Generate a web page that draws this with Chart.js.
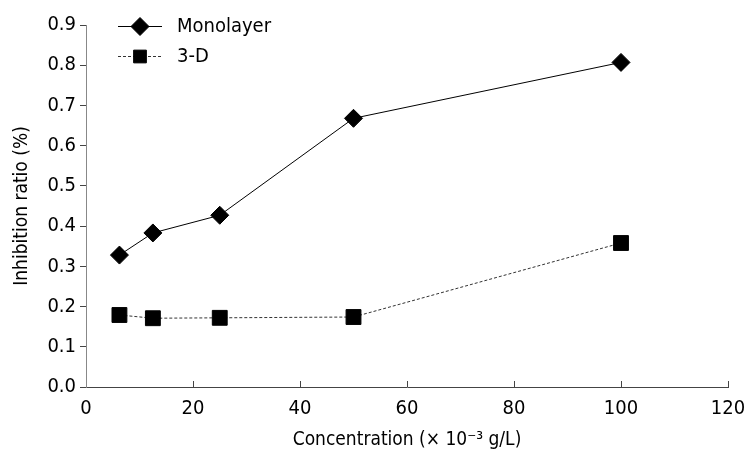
<!DOCTYPE html>
<html>
<head>
<meta charset="utf-8">
<script src="https://cdn.jsdelivr.net/npm/chart.js@4/dist/chart.umd.min.js"></script>
<style>
html,body{margin:0;padding:0;background:#fff;}
#wrap{width:748px;height:456px;position:relative;}
</style>
</head>
<body>
<div id="wrap"><canvas id="c" width="748" height="456"></canvas></div>
<script>
const concentrations = [6.25, 12.5, 25, 50, 100];
const monolayer = [0.328, 0.383, 0.427, 0.668, 0.807];
const threeD = [0.179, 0.171, 0.172, 0.174, 0.358];
const seriesNames = ["Monolayer", "3-D"];
const xTicks = [0, 20, 40, 60, 80, 100, 120];
const yTicks = [0, 0.1, 0.2, 0.3, 0.4, 0.5, 0.6, 0.7, 0.8, 0.9];
const xTitle = "Concentration (× 10⁻³ g/L)";
const yTitle = "Inhibition ratio (%)";

const FONT = "'DejaVu Sans Condensed', 'DejaVu Sans'";

const toPts = (xs, ys) => xs.map((x, i) => ({x: x, y: ys[i]}));

const xInwardTicks = {
  id: 'xInwardTicks',
  afterDatasetsDraw(chart) {
    const ctx = chart.ctx, xs = chart.scales.x, bottom = chart.chartArea.bottom;
    ctx.save();
    ctx.strokeStyle = '#444';
    ctx.lineWidth = 1;
    xTicks.forEach(v => {
      if (v === 0) return;
      const px = Math.round(xs.getPixelForValue(v)) + 0.5;
      ctx.beginPath();
      ctx.moveTo(px, bottom);
      ctx.lineTo(px, bottom - 6);
      ctx.stroke();
    });
    ctx.restore();
  }
};

const customLegend = {
  id: 'customLegend',
  afterDraw(chart) {
    const ctx = chart.ctx;
    const rows = [26, 56];
    const radii = [9, 9];
    chart.data.datasets.forEach((ds, i) => {
      const y = rows[i] + 0.5;
      ctx.save();
      ctx.strokeStyle = ds.borderColor;
      ctx.lineWidth = ds.borderWidth;
      ctx.setLineDash(ds.borderDash || []);
      ctx.beginPath();
      ctx.moveTo(118, y);
      ctx.lineTo(162, y);
      ctx.stroke();
      ctx.setLineDash([]);
      ctx.fillStyle = '#000';
      ctx.strokeStyle = '#000';
      Chart.helpers.drawPoint(ctx, {
        pointStyle: ds.pointStyle,
        radius: radii[i],
        borderWidth: 1
      }, 140, y);
      ctx.restore();
      ctx.save();
      ctx.fillStyle = '#000';
      ctx.font = '20px ' + FONT;
      ctx.textBaseline = 'middle';
      ctx.fillText(ds.label, 177, y);
      ctx.restore();
    });
  }
};

new Chart(document.getElementById('c'), {
  type: 'line',
  data: {
    datasets: [
      {
        label: seriesNames[0],
        data: toPts(concentrations, monolayer),
        borderColor: '#000',
        backgroundColor: '#000',
        borderWidth: 1,
        pointStyle: 'rectRot',
        pointRadius: 9,
        pointBorderColor: '#000',
        pointBackgroundColor: '#000',
        pointBorderWidth: 1,
        tension: 0
      },
      {
        label: seriesNames[1],
        data: toPts(concentrations, threeD),
        borderColor: '#333',
        backgroundColor: '#000',
        borderWidth: 1,
        borderDash: [3, 2],
        pointStyle: 'rect',
        pointRadius: 10.5,
        pointBorderColor: '#000',
        pointBackgroundColor: '#000',
        pointBorderWidth: 1,
        tension: 0
      }
    ]
  },
  options: {
    responsive: false,
    animation: false,
    layout: {padding: {left: 0, right: 20, top: 25, bottom: 0}},
    plugins: {
      legend: {display: false},
      tooltip: {enabled: false}
    },
    scales: {
      x: {
        type: 'linear',
        min: 0, max: 120,
        afterBuildTicks: s => { s.ticks = xTicks.map(v => ({value: v})); },
        afterFit: s => { s.height = 69; s.paddingLeft = 0; s.paddingRight = 0; },
        border: {display: true, color: '#444', width: 1},
        grid: {display: true, drawOnChartArea: false, drawTicks: false, tickLength: 0},
        ticks: {color: '#000', font: {family: FONT, size: 20}, padding: 10, maxRotation: 0},
        title: {display: true, text: xTitle, color: '#000', font: {family: FONT, size: 19}, padding: {top: 4, bottom: 5}}
      },
      y: {
        type: 'linear',
        min: 0, max: 0.9,
        afterBuildTicks: s => { s.ticks = yTicks.map(v => ({value: v})); },
        afterFit: s => { s.width = 86; s.paddingTop = 0; s.paddingBottom = 0; },
        border: {display: true, color: '#888', width: 1},
        grid: {display: true, drawOnChartArea: false, drawTicks: true, tickLength: 6, color: '#444'},
        ticks: {color: '#000', font: {family: FONT, size: 20}, padding: 4, callback: v => v.toFixed(1)},
        title: {display: true, text: yTitle, color: '#000', font: {family: FONT, size: 19}, padding: {top: 11, bottom: 0}}
      }
    }
  },
  plugins: [xInwardTicks, customLegend]
});
</script>
</body>
</html>
